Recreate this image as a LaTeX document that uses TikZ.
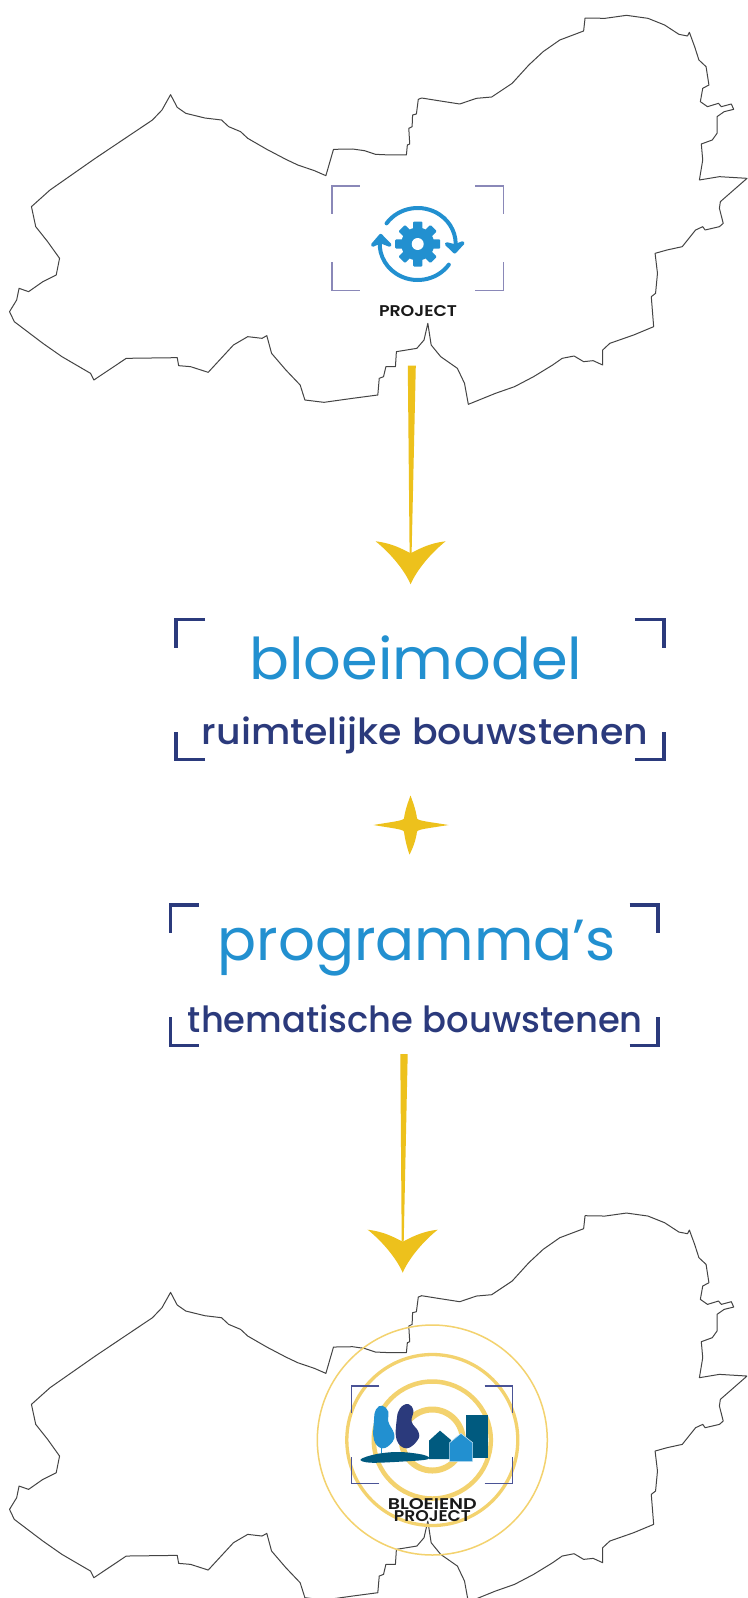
\documentclass[tikz,border=0pt]{standalone}
\usepackage{fontspec}
\usepackage{graphicx}
\setmainfont{Poppins}
\newfontfamily\popreg{Poppins}
\newfontfamily\popmed{Poppins Medium}
\newfontfamily\popsemi{Poppins SemiBold}
\definecolor{bluetxt}{HTML}{2290D0}
\definecolor{navytxt}{HTML}{2B3A7C}
\definecolor{gold}{HTML}{EDC11C}
\definecolor{ringgold}{HTML}{F3D26E}
\definecolor{teal}{HTML}{005A7F}
\definecolor{lightbrk}{HTML}{8A88B8}
\definecolor{midbrk}{HTML}{4A5396}
\definecolor{mapgrey}{HTML}{444444}
\tikzset{
  mapline/.style={draw=mapgrey,line width=1pt,line join=round},
  thickbrk/.style={draw=navytxt,line width=3.5pt},
  thinbrk/.style={draw=lightbrk,line width=1.6pt},
  midbrkline/.style={draw=midbrk,line width=1.2pt},
  iconline/.style={draw=bluetxt,line width=4pt,line cap=round,line join=round},
  iconhead/.style={draw=bluetxt,fill=bluetxt,line width=3.6pt,line cap=round,line join=round},
  ringline/.style={draw=ringgold},
  shaftfill/.style={fill=gold},
  arrowtip/.pic={\fill[gold] (-35,-12) .. controls (-18,-10) and (-8,-4) .. (0,0) .. controls (8,-4) and (18,-10) .. (35,-12) .. controls (20,0) and (6,17) .. (0,31) .. controls (-6,17) and (-20,0) .. (-35,-12) -- cycle;},
}
\newcommand\mapshape{\draw[mapline,x=0.47642pt,y=-0.33333pt]
 (358,284) -- (372,322) -- (390,340) -- (430,354) -- (465,360) -- (480,380) -- (505,395) -- (520,415) -- (560,448) -- (600,478) -- (625,495) -- (660,512) -- (684,527) -- (700,448) -- (740,447) -- (765,452) -- (788,463) -- (820,465) -- (853,465) -- (855,435) -- (860,432) -- (858,385) -- (865,380) -- (866,345) -- (874,342) -- (878,298) -- (885,294) -- (920,302) -- (965,312) -- (1000,295) -- (1032,291) -- (1075,250) -- (1110,195) -- (1140,155) -- (1175,120) -- (1225,93) -- (1228,54) -- (1270,55) -- (1315,46) -- (1360,55) -- (1395,75) -- (1425,103) -- (1443,108) -- (1447,97) -- (1458,140) -- (1467,180) -- (1482,200) -- (1488,255) -- (1475,265) -- (1470,305) -- (1485,320) -- (1508,310) -- (1514,320) -- (1535,312) -- (1540,328) -- (1520,335) -- (1505,350) -- (1505,400) -- (1495,420) -- (1472,432) -- (1475,480) -- (1468,540) -- (1510,530) -- (1568,535) -- (1540,570) -- (1512,605) -- (1510,625) -- (1518,670) -- (1510,680) -- (1480,690) -- (1475,680) -- (1460,690) -- (1432,740) -- (1400,750) -- (1375,760) -- (1380,820) -- (1376,880) -- (1367,890) -- (1372,980) -- (1330,1005) -- (1280,1030) -- (1265,1050) -- (1265,1095) -- (1245,1082) -- (1225,1085) -- (1205,1068) -- (1180,1075) -- (1160,1095) -- (1120,1130) -- (1080,1160) -- (1040,1180) -- (983,1213) -- (975,1150) -- (960,1105) -- (925,1070) -- (905,1035) -- (898,970) -- (890,1020) -- (875,1045) -- (832,1055) -- (830,1100) -- (810,1100) -- (805,1130) -- (796,1135) -- (793,1185) -- (740,1195) -- (680,1207) -- (640,1200) -- (630,1155) -- (600,1110) -- (570,1060) -- (560,1007) -- (550,1015) -- (520,1010) -- (490,1035) -- (437,1117) -- (400,1100) -- (375,1097) -- (372,1073) -- (265,1075) -- (197,1140) -- (190,1120) -- (130,1070) -- (90,1030) -- (30,965) -- (20,935) -- (35,900) -- (40,865) -- (60,875) -- (90,845) -- (118,825) -- (125,775) -- (100,725) -- (75,680) -- (66,620) -- (105,570) -- (200,475) -- (320,360) -- (340,330) -- cycle;}
% corner brackets: left, top, right, bottom, arm x, arm y, style
\newcommand\cornerbrk[7]{%
 \draw[#7] (#1+#5,#2) -- (#1,#2) -- (#1,#2+#6);
 \draw[#7] (#3-#5,#2) -- (#3,#2) -- (#3,#2+#6);
 \draw[#7] (#1+#5,#4) -- (#1,#4) -- (#1,#4-#6);
 \draw[#7] (#3-#5,#4) -- (#3,#4) -- (#3,#4-#6);}
\newcommand\txt[4]{\resizebox{#1pt}{\height}{\fontsize{#2pt}{#2pt}#3\selectfont #4}}
\begin{document}
\begin{tikzpicture}[x=1pt,y=-1pt]
\useasboundingbox (0,0) rectangle (747,1598);
\fill[white] (0,0) rectangle (747,1598);
% upper map
\mapshape
\cornerbrk{331.7}{185.7}{503.3}{290.3}{28}{28}{thinbrk}
% project icon
\begin{scope}[shift={(417.7,244)}]
 \foreach \a in {0,45,...,315}{\fill[bluetxt,rounded corners=1pt,rotate=\a] (-4.6pt,14pt) rectangle (4.6pt,22.5pt);}
 \fill[bluetxt] (0,0) circle[radius=16.5pt];
 \fill[white] (0,0) circle[radius=6pt];
 \draw[iconline] (145:38pt and 36pt) arc[start angle=145,end angle=-8,x radius=38pt,y radius=36pt];
 \draw[iconhead] (29pt,0pt) -- (37pt,-7.7pt) -- (45pt,1pt) -- (37pt,-2pt) -- cycle;
 \draw[iconline] (-35:38pt and 36pt) arc[start angle=-35,end angle=-192,x radius=38pt,y radius=36pt];
 \draw[iconhead] (-45pt,-1pt) -- (-37pt,8.3pt) -- (-28pt,-1pt) -- (-37pt,2.5pt) -- cycle;
\end{scope}
\node[anchor=base,inner sep=0pt,text=black!90] (projlabel) at (418,316) {\txt{78}{15.5}{\popsemi}{PROJECT}};
% first arrow
\coordinate (a1top) at (411.8,365.7);
\coordinate (a1tip) at (410.6,553.3);
\fill[shaftfill] ([xshift=-4pt]a1top) -- ([xshift=4pt]a1top) -- ([xshift=1pt]a1tip) -- ([xshift=-1pt]a1tip) -- cycle;
\pic at (a1tip) {arrowtip};
% first block
\cornerbrk{176.2}{619.5}{664.2}{759.5}{29}{28}{thickbrk}
\node[anchor=base,inner sep=0pt,text=bluetxt] (bloei) at (416,679.3) {\txt{333}{57.5}{\popreg}{bloeimodel}};
\node[anchor=base,inner sep=0pt,text=navytxt] (ruimte) at (425,744) {\txt{446}{36}{\popmed}{ruimtelijke bouwstenen}};
% plus star
\begin{scope}[shift={(410.5,825)}]
 \fill[gold] (-37,0) .. controls (-20,-3) and (-8,-4) .. (-6.5,-6.5) .. controls (-5.5,-15) and (-2,-24) .. (0,-29.5)
  .. controls (2,-24) and (5.5,-15) .. (6.5,-6.5) .. controls (8,-4) and (20,-3) .. (38,0)
  .. controls (20,3) and (8,4) .. (6.5,6.5) .. controls (5.5,15) and (2,24) .. (-1,29.5)
  .. controls (-3,24) and (-5.5,15) .. (-6.5,6.5) .. controls (-8,4) and (-20,3) .. (-37,0) -- cycle;
\end{scope}
% second block
\cornerbrk{170.4}{905}{658}{1045.3}{28.3}{28}{thickbrk}
\node[anchor=base,inner sep=0pt,text=bluetxt] (prog) at (416.7,960.7) {\txt{398}{58}{\popreg}{programma’s}};
\node[anchor=base,inner sep=0pt,text=navytxt] (them) at (415.4,1032.7) {\txt{455}{36}{\popmed}{thematische bouwstenen}};
% second arrow
\coordinate (a2top) at (404,1054);
\coordinate (a2tip) at (402.7,1241.7);
\fill[shaftfill] ([xshift=-3.7pt]a2top) -- ([xshift=3.7pt]a2top) -- ([xshift=1pt]a2tip) -- ([xshift=-1pt]a2tip) -- cycle;
\pic at (a2tip) {arrowtip};
% lower map, cut off by the page
\begin{scope}
 \clip (0,0) rectangle (747,1598);
 \begin{scope}[yshift=-1197.7pt]
  \mapshape
 \end{scope}
\end{scope}
% rings
\coordinate (ringc) at (432.3,1440);
\draw[ringline,line width=1.5pt] (ringc) circle[radius=115pt];
\draw[ringline,line width=3.3pt] (ringc) circle[radius=85.5pt];
\draw[ringline,line width=4.5pt] (ringc) circle[radius=58.5pt];
\draw[ringline,line width=6pt] (ringc) circle[radius=30.5pt];
\cornerbrk{351.7}{1386}{512.3}{1483.7}{27.7}{27}{midbrkline}
% blooming project icon
\begin{scope}[shift={(350,1390)},x=0.33333pt,y=-0.33333pt]
 \draw[bluetxt,line width=1pt] (95,170) -- (95,190);
 \draw[ringgold,line width=1pt] (165,170) -- (165,190);
 \fill[bluetxt] plot[smooth cycle,tension=0.7] coordinates {(97,47) (78,58) (72,90) (72,150) (98,175) (128,155) (132,130) (115,95) (115,65)};
 \fill[navytxt] plot[smooth cycle,tension=0.7] coordinates {(175,42) (150,55) (140,90) (140,150) (170,175) (203,150) (205,125) (185,95) (190,62)};
 \fill[teal] plot[smooth cycle,tension=0.6] coordinates {(32,208) (80,192) (150,186) (222,195) (232,208) (150,215) (60,218)};
 \fill[teal] (347,75) rectangle (415,203);
 \fill[teal] (237,152) -- (270,122) -- (303,150) -- (303,207) -- (237,207) -- cycle;
 \filldraw[fill=bluetxt,draw=white!75!bluetxt,line width=0.6pt] (299,158) -- (333,130) -- (368,158) -- (368,215) -- (299,215) -- cycle;
\end{scope}
\node[anchor=base,inner sep=0pt,text=black!90] (bllabela) at (432.3,1509.3) {\txt{89}{15.5}{\popsemi}{BLOEIEND}};
\node[anchor=base,inner sep=0pt,text=black!90] (bllabelb) at (432.3,1521.7) {\txt{77}{15.5}{\popsemi}{PROJECT}};
\end{tikzpicture}
\end{document}
